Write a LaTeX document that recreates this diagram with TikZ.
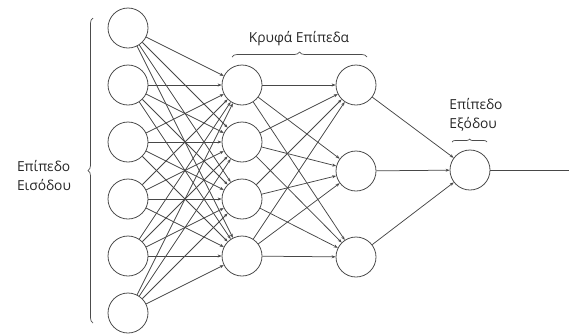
\documentclass[tikz,border=0pt]{standalone}
\usepackage{fontspec}
\setmainfont{Open Sans}
\usetikzlibrary{arrows.meta,decorations.pathreplacing}
\begin{document}
\begin{tikzpicture}[x=1pt,y=-1pt,
  neuron/.style={circle,draw=black!70,line width=0.8pt,minimum size=40pt,inner sep=0pt,fill=white},
  conn/.style={draw=black!72,line width=0.75pt,-{Stealth[length=4pt,width=3pt]}},
  plain/.style={draw=black!72,line width=0.75pt},
  lbl/.style={font=\fontsize{13.8}{19}\selectfont,text=black!85,inner sep=0pt},
  brc/.style={draw=black!70,line width=0.7pt,decorate,decoration={brace,amplitude=#1}}]
\useasboundingbox (0,0) rectangle (569,333);
\foreach \i/\y in {1/28,2/85,3/142,4/199,5/256,6/313}
  \node[neuron] (i\i) at (128,\y) {};
\foreach \i/\y in {1/85,2/142,3/199,4/256}
  \node[neuron] (a\i) at (242,\y) {};
\foreach \i/\y in {1/85,2/171,3/257}
  \node[neuron] (b\i) at (356,\y) {};
\node[neuron] (o) at (470,170) {};
\coordinate (end) at (569,170);
\foreach \i in {1,...,6}
  \foreach \j in {1,...,4}
    \draw[conn] (i\i) -- (a\j);
\foreach \i in {1,...,4}
  \foreach \j in {1,...,3}
    \draw[conn] (a\i) -- (b\j);
\foreach \j in {1,...,3}
  \draw[conn] (b\j) -- (o);
\draw[plain] (o) -- (end);
% braces
\coordinate (lb1) at (93,323);
\coordinate (lb2) at (93,18);
\draw[brc=5pt] (lb1) -- (lb2);
\coordinate (tb1) at (232,57);
\coordinate (tb2) at (367,57);
\draw[brc=5pt] (tb1) -- (tb2);
\coordinate (ob1) at (452,142);
\coordinate (ob2) at (487,142);
\draw[brc=3pt] (ob1) -- (ob2);
% labels
\node[lbl,align=left] (inl) at (44,175) {Επίπεδο\\Εισόδου};
\node[lbl] (hl) at (299,39) {Κρυφά Επίπεδα};
\node[lbl,align=left] (ol) at (476,115) {Επίπεδο\\Εξόδου};
\end{tikzpicture}
\end{document}
